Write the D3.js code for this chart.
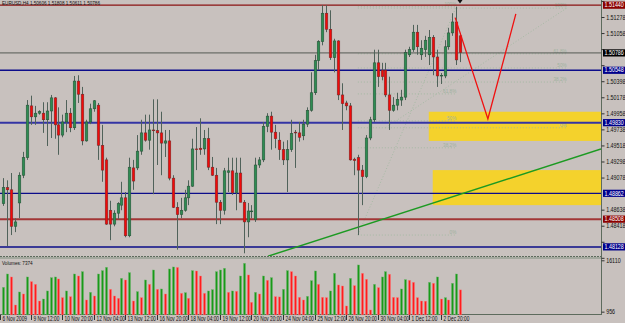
<!DOCTYPE html>
<html>
<head>
<meta charset="utf-8">
<script src="https://cdnjs.cloudflare.com/ajax/libs/d3/7.8.5/d3.min.js"></script>
<style>
  body { margin: 0; background: #c8c1be; }
  svg { display: block; font-family: "Liberation Sans", Arial, sans-serif; }
</style>
</head>
<body>
<div id="chart"></div>
<script>
// EURUSD H4 candles, 6 Nov - 2 Dec 2009
var opens = [1.4872,1.4894,1.4891,1.4841,1.4873,1.4911,1.4935,1.5006,1.4991,1.4996,
  1.4996,1.4987,1.4999,1.5017,1.4980,1.4966,1.4984,1.4996,1.4976,1.5040,
  1.5022,1.4958,1.4984,1.5002,1.5007,1.4952,1.4932,1.4863,1.4844,1.4859,
  1.4870,1.4880,1.4828,1.4921,1.4921,1.4944,1.4969,1.4959,1.4973,1.4972,
  1.4969,1.4955,1.4958,1.4907,1.4867,1.4857,1.4863,1.4880,1.4896,1.4947,
  1.4948,1.4947,1.4961,1.4922,1.4911,1.4874,1.4863,1.4915,1.4917,1.4887,
  1.4914,1.4874,1.4847,1.4861,1.4850,1.4925,1.4932,1.4978,1.4992,1.4970,
  1.4959,1.4946,1.4932,1.4946,1.4970,1.4969,1.4965,1.4981,1.5000,1.5024,
  1.5068,1.5094,1.5133,1.5111,1.5072,1.5095,1.5021,1.5010,1.5006,1.4933,
  1.4935,1.4918,1.4909,1.4962,1.4987,1.5065,1.5055,1.5055,1.5021,1.5000,
  1.5007,1.5014,1.5018,1.5076,1.5083,1.5107,1.5076,1.5083,1.5076,1.5100,
  1.5073,1.5047,1.5047,1.5087,1.5106,1.5121,1.5102];
var highs = [1.4907,1.4904,1.4914,1.4852,1.4915,1.4943,1.5014,1.5020,1.5006,1.5000,
  1.5011,1.5011,1.5021,1.5018,1.5004,1.4994,1.5014,1.5003,1.5047,1.5048,
  1.5032,1.4987,1.5009,1.5014,1.5010,1.4980,1.4935,1.4876,1.4863,1.4874,
  1.4902,1.4888,1.4935,1.4932,1.4966,1.4987,1.4994,1.4994,1.5015,1.5015,
  1.4998,1.4973,1.4973,1.4911,1.4874,1.4880,1.4891,1.4904,1.4961,1.4977,
  1.4989,1.4973,1.4976,1.4936,1.4921,1.4877,1.4921,1.4935,1.4935,1.4935,
  1.4935,1.4877,1.4873,1.4870,1.4935,1.4936,1.4984,1.4996,1.4998,1.4980,
  1.4970,1.4957,1.4959,1.4987,1.4973,1.4984,1.4987,1.5004,1.5052,1.5076,
  1.5096,1.5144,1.5144,1.5137,1.5098,1.5096,1.5037,1.5013,1.5010,1.4935,
  1.4939,1.4925,1.4966,1.4991,1.5083,1.5083,1.5065,1.5065,1.5046,1.5018,
  1.5024,1.5028,1.5083,1.5087,1.5117,1.5117,1.5096,1.5102,1.5110,1.5103,
  1.5083,1.5051,1.5096,1.5113,1.5133,1.5142,1.5106];
var lows = [1.4869,1.4814,1.4829,1.4833,1.4852,1.4907,1.4932,1.4980,1.4980,1.4994,
  1.4969,1.4951,1.4962,1.4961,1.4939,1.4963,1.4970,1.4970,1.4973,1.5010,
  1.4952,1.4957,1.4981,1.4998,1.4932,1.4902,1.4843,1.4822,1.4841,1.4851,
  1.4863,1.4826,1.4826,1.4891,1.4918,1.4939,1.4957,1.4946,1.4885,1.4925,
  1.4911,1.4936,1.4904,1.4866,1.4809,1.4852,1.4861,1.4870,1.4895,1.4918,
  1.4939,1.4939,1.4918,1.4910,1.4844,1.4844,1.4857,1.4888,1.4884,1.4863,
  1.4874,1.4804,1.4826,1.4852,1.4847,1.4921,1.4929,1.4970,1.4946,1.4948,
  1.4932,1.4925,1.4888,1.4943,1.4921,1.4957,1.4959,1.4977,1.4998,1.5021,
  1.5055,1.5089,1.5107,1.5069,1.5052,1.5014,1.4973,1.5000,1.4931,1.4911,
  1.4829,1.4870,1.4907,1.4959,1.4984,1.5032,1.5041,1.5018,1.4973,1.4998,
  1.5000,1.5006,1.5014,1.5073,1.5080,1.5076,1.5069,1.5073,1.5062,1.5048,
  1.5032,1.5036,1.5044,1.5083,1.5102,1.5062,1.5066];
var closes = [1.4894,1.4891,1.4841,1.4847,1.4911,1.4935,1.5007,1.4991,1.4996,1.4998,
  1.4987,1.4999,1.5017,1.4980,1.4966,1.4984,1.4996,1.4976,1.5040,1.5022,
  1.4958,1.4984,1.5002,1.5013,1.4952,1.4918,1.4844,1.4844,1.4859,1.4872,
  1.4880,1.4828,1.4922,1.4903,1.4944,1.4969,1.4959,1.4973,1.4972,1.4969,
  1.4955,1.4958,1.4907,1.4867,1.4857,1.4863,1.4880,1.4896,1.4947,1.4946,
  1.4946,1.4961,1.4922,1.4911,1.4874,1.4863,1.4917,1.4917,1.4887,1.4914,
  1.4874,1.4847,1.4862,1.4862,1.4925,1.4932,1.4978,1.4992,1.4970,1.4961,
  1.4946,1.4932,1.4946,1.4968,1.4969,1.4963,1.4981,1.5000,1.5024,1.5068,
  1.5094,1.5133,1.5111,1.5072,1.5095,1.5021,1.5009,1.5006,1.4932,1.4931,
  1.4918,1.4909,1.4962,1.4987,1.5065,1.5046,1.5046,1.5021,1.5000,1.5007,
  1.5015,1.5018,1.5079,1.5083,1.5107,1.5087,1.5085,1.5096,1.5100,1.5073,
  1.5047,1.5048,1.5087,1.5106,1.5121,1.5069,1.5079];
var volumes = [8140,12070,11190,2920,6760,6170,11190,9810,9020,4100,
  4690,7060,10990,11190,10600,5090,7060,5380,12070,11480,
  12760,4400,6660,5580,12070,13060,14040,7550,5580,4890,
  10790,10300,12470,4100,6860,5090,10300,9020,13250,7550,
  7650,6170,13550,14140,14000,6370,6560,4890,13060,12950,
  11480,6370,7060,7450,12760,13250,13750,6660,7060,6960,
  11480,15220,11780,3710,6660,6170,11480,10200,10990,5380,
  5300,7550,13060,12760,11480,5190,4400,5480,10100,12960,
  9020,5190,5100,7060,12270,8830,8530,2630,10790,8630,
  14730,12270,10500,1450,9020,8040,11190,12760,11980,5190,
  5100,7650,10400,10200,9610,5090,4100,4050,9610,9320,
  11190,4690,5090,4400,9320,12070,7374];

var priceTicks = [1.51498,1.51278,1.51058,1.50838,1.50618,1.50398,1.50178,1.49958,
  1.49738,1.49518,1.49298,1.49078,1.48638,1.48418,1.48198,1.47978];
var volumeTicks = [16110, 956];

var timeLabels = ["6 Nov 2009","9 Nov 12:00","10 Nov 20:00","12 Nov 04:00","13 Nov 12:00",
  "16 Nov 20:00","18 Nov 04:00","19 Nov 12:00","20 Nov 20:00","24 Nov 04:00",
  "25 Nov 12:00","26 Nov 20:00","30 Nov 04:00","1 Dec 12:00","2 Dec 20:00"];
var timeIndex = [-1,7,15,23,31,39,47,55,63,71,79,87,95,103,111];

// horizontal levels and their price tags
var levelPrices = [1.51440,1.50786,1.50548,1.49830,1.48862,1.48508,1.48128];
var levelColors = ["#8b1212","#555a55","#0c0c8a","#3434a4","#0c0c8a","#a23636","#3a3a96"];
var levelWidths = [1.2,1,1.4,2,1.3,2,2];
var tagColors = ["#8b0000","#000000","#00008b","#00008b","#00008b","#8b0000","#00008b"];

// yellow zones
var zoneStart = [108,109];
var zoneHigh = [1.4998,1.4918];
var zoneLow = [1.4958,1.4870];

// trend line and projected path
var trendIdx = [67.2,151.7];
var trendPrice = [1.4800,1.4947];
var pathIdx = [114.7,123,130.1];
var pathPrice = [1.5127,1.4988,1.5132];

// fibonacci retracements
var fibLevels = [0,0.382,0.5,0.618,1];
var fibNames = ["0%","38.2%","50%","61.8%","100%"];
var fibA = {from:90, to:115, lineFrom:90, p0:1.4829, p1:1.5142};
var fibB = {from:97, to:143, lineFrom:90, p0:1.4976, p1:1.5140};

var W = 625, H = 323, plotR = 601, priceB = 256;

var svg = d3.select("#chart").append("svg").attr("width", W).attr("height", H);
svg.append("rect").attr("width", W).attr("height", H).attr("fill", "#c8c1be");

var x = d3.scaleLinear().domain([0, 116]).range([3.3, 460.3]);
var y = d3.scaleLinear().domain([1.51511, 1.48003]).range([0, priceB]);
var yv = d3.scaleLinear().domain([0, 16110]).range([314.9, 260.3]);

svg.append("defs").append("clipPath").attr("id", "clipMain")
  .append("rect").attr("width", plotR).attr("height", priceB);
var main = svg.append("g").attr("clip-path", "url(#clipMain)");

// zones
main.selectAll(".zone").data(zoneHigh).enter().append("rect")
  .attr("x", function (d, i) { return x(zoneStart[i]); })
  .attr("y", function (d) { return y(d); })
  .attr("width", function (d, i) { return plotR - x(zoneStart[i]); })
  .attr("height", function (d, i) { return y(zoneLow[i]) - y(d); })
  .attr("fill", "#f4d22c");

// fibonacci
function drawFib(f) {
  var g = main.append("g");
  var yl = function (lv) { return y(f.p0 + lv * (f.p1 - f.p0)); };
  g.selectAll("line.lv").data(fibLevels).enter().append("line")
    .attr("x1", x(f.lineFrom)).attr("x2", x(f.to))
    .attr("y1", function (d) { return yl(d); }).attr("y2", function (d) { return yl(d); })
    .attr("stroke", "#9db89d").attr("stroke-width", 0.8).attr("stroke-dasharray", "1,2");
  g.append("line")
    .attr("x1", x(f.from)).attr("y1", yl(0)).attr("x2", x(f.to)).attr("y2", yl(1))
    .attr("stroke", "#9db89d").attr("stroke-width", 0.8).attr("stroke-dasharray", "1,2");
  g.selectAll("text").data(fibLevels).enter().append("text")
    .attr("transform", function (d) { return "translate(" + x(f.to) + "," + (yl(d) - 1) + ") scale(0.85,1)"; })
    .attr("text-anchor", "end").attr("font-size", 5.5).attr("fill", "#9fb29f")
    .text(function (d, i) { return fibNames[i]; });
}
drawFib(fibA);
drawFib(fibB);

// horizontal levels
main.selectAll(".lvl").data(levelPrices).enter().append("line")
  .attr("x1", 0).attr("x2", plotR)
  .attr("y1", function (d) { return y(d); }).attr("y2", function (d) { return y(d); })
  .attr("stroke", function (d, i) { return levelColors[i]; })
  .attr("stroke-width", function (d, i) { return levelWidths[i]; });

// trend line
main.append("line")
  .attr("x1", x(trendIdx[0])).attr("y1", y(trendPrice[0]))
  .attr("x2", x(trendIdx[1])).attr("y2", y(trendPrice[1]))
  .attr("stroke", "#1c9a22").attr("stroke-width", 1.4);

// candles
var idx = d3.range(opens.length);
main.selectAll(".wick").data(idx).enter().append("line")
  .attr("x1", function (i) { return Math.round(x(i)) + 0.5; })
  .attr("x2", function (i) { return Math.round(x(i)) + 0.5; })
  .attr("y1", function (i) { return y(highs[i]); })
  .attr("y2", function (i) { return y(lows[i]); })
  .attr("stroke", "#50625a").attr("stroke-width", 1);
main.selectAll(".body").data(idx).enter().append("rect")
  .attr("x", function (i) { return Math.round(x(i)) - 0.8; })
  .attr("width", 2.6)
  .attr("y", function (i) { return y(Math.max(opens[i], closes[i])); })
  .attr("height", function (i) { return Math.max(0.8, Math.abs(y(opens[i]) - y(closes[i]))); })
  .attr("fill", function (i) { return closes[i] >= opens[i] ? "#2e8c52" : "#f20a0a"; })
  .attr("stroke", function (i) { return closes[i] >= opens[i] ? "#264d35" : "#6b2a2a"; })
  .attr("stroke-width", 0.5);

// projected path
main.append("path")
  .attr("d", d3.line().x(function (d) { return x(d); }).y(function (d, i) { return y(pathPrice[i]); })(pathIdx))
  .attr("fill", "none").attr("stroke", "#f01010").attr("stroke-width", 1.3);

// marker arrow at top
svg.append("path").attr("d", "M457.5,0 L462.5,0 L460,3.5 Z").attr("fill", "#111");

// header
svg.append("text").attr("transform", "translate(2,5) scale(0.84,1)")
  .attr("font-size", 5.5).attr("fill", "#111")
  .text("EURUSD,H4  1.50606 1.51808 1.50611 1.50786");

// pane separators and frame
svg.append("line").attr("x1", 0).attr("x2", plotR).attr("y1", 256.5).attr("y2", 256.5)
  .attr("stroke", "#5d6b5d").attr("stroke-width", 1).attr("stroke-dasharray", "2,1");
svg.append("line").attr("x1", 0).attr("x2", plotR).attr("y1", 258).attr("y2", 258)
  .attr("stroke", "#7f8f7f").attr("stroke-width", 1);
svg.append("line").attr("x1", 0).attr("x2", plotR).attr("y1", 314.5).attr("y2", 314.5)
  .attr("stroke", "#5d6b5d").attr("stroke-width", 1);
svg.append("line").attr("x1", plotR + 0.5).attr("x2", plotR + 0.5).attr("y1", 0).attr("y2", 315)
  .attr("stroke", "#5d6b5d").attr("stroke-width", 1);

// price axis; labels that sit under a price tag or the pane edge are hidden, as in the terminal
function hidden(p) {
  var py = y(p);
  if (py < 3 || py > priceB - 2) return true;
  return levelPrices.some(function (l) { return Math.abs(y(l) - py) < 6; });
}
var pAxis = svg.append("g").attr("transform", "translate(" + (plotR + 0.5) + ",0)")
  .call(d3.axisRight(y).tickValues(priceTicks).tickSize(3)
    .tickFormat(function (d) { return hidden(d) ? "" : d3.format(".5f")(d); }));
pAxis.select(".domain").remove();
pAxis.selectAll("line").attr("stroke", "#333");
pAxis.selectAll("text").attr("x", 5.5).attr("transform", "scale(0.85,1)")
  .attr("font-size", 6.3).attr("fill", "#111").attr("font-family", "Liberation Sans, Arial, sans-serif");

// price tags
var tags = svg.selectAll(".tag").data(levelPrices).enter().append("g")
  .attr("transform", function (d) { return "translate(602," + y(d) + ")"; });
tags.append("rect").attr("x", 1).attr("y", -3.6).attr("width", 22).attr("height", 7.2)
  .attr("fill", function (d, i) { return tagColors[i]; });
tags.append("text").attr("transform", "translate(2.5,2.2) scale(0.85,1)")
  .attr("font-size", 6.3).attr("fill", "#fff")
  .text(function (d) { return d3.format(".5f")(d); });

// volumes
var vg = svg.append("g");
vg.selectAll(".vol").data(volumes).enter().append("rect")
  .attr("x", function (d, i) { return Math.round(x(i)) - 0.5; })
  .attr("width", 2)
  .attr("y", function (d) { return yv(d); })
  .attr("height", function (d) { return yv(0) - yv(d); })
  .attr("fill", function (d, i) { return (i === 0 || d > volumes[i - 1]) ? "#189a18" : "#ff1c1c"; })
  .attr("stroke", function (d, i) { return (i === 0 || d > volumes[i - 1]) ? "#6fb56f" : "#ff7a7a"; })
  .attr("stroke-width", 0.4);
svg.append("text").attr("transform", "translate(2,265) scale(0.8,1)")
  .attr("font-size", 5.8).attr("fill", "#111")
  .text("Volumes: " + volumes[volumes.length - 1]);

var vAxis = svg.append("g").attr("transform", "translate(" + (plotR + 0.5) + ",0)")
  .call(d3.axisRight(yv).tickValues(volumeTicks).tickSize(3).tickFormat(d3.format("d")));
vAxis.select(".domain").remove();
vAxis.selectAll("line").attr("stroke", "#333");
vAxis.selectAll("text").attr("x", 5.5).attr("transform", "scale(0.85,1)")
  .attr("font-size", 6.3).attr("fill", "#111").attr("font-family", "Liberation Sans, Arial, sans-serif");

// time axis
var tg = svg.selectAll(".tlab").data(timeLabels).enter().append("g")
  .attr("transform", function (d, i) { return "translate(" + Math.max(0.5, Math.round(x(timeIndex[i])) + 0.5) + ",315)"; });
tg.append("line").attr("y1", 0).attr("y2", 5).attr("stroke", "#333");
tg.append("text").attr("transform", "translate(2,6) scale(0.74,1)")
  .attr("font-size", 6.5).attr("fill", "#111")
  .text(function (d) { return d; });
</script>
</body>
</html>
